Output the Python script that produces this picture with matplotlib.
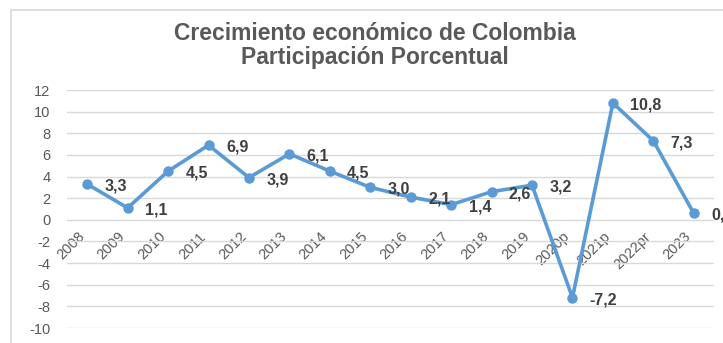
import numpy as np
import matplotlib
matplotlib.use("Agg")
import matplotlib.pyplot as plt
from matplotlib.patches import Rectangle
from matplotlib.transforms import ScaledTranslation

plt.rcParams['font.family'] = ['Liberation Sans', 'DejaVu Sans']

# Crecimiento anual del PIB (%)
years = ['2008', '2009', '2010', '2011', '2012', '2013', '2014', '2015',
         '2016', '2017', '2018', '2019', '2020p', '2021p', '2022pr', '2023']
growth = [3.3, 1.1, 4.5, 6.9, 3.9, 6.1, 4.5, 3.0,
          2.1, 1.4, 2.6, 3.2, -7.2, 10.8, 7.3, 0.6]
yticks = list(range(-10, 13, 2))

line_color = '#5B9BD5'
text_gray = '#595959'
grid_gray = '#D9D9D9'

fig = plt.figure(figsize=(7.23, 3.43), dpi=100)

# marco del gráfico
fig.patches.append(Rectangle((11 / 723, -0.1), 1.2, (343 - 10) / 343 + 0.1,
                             transform=fig.transFigure, fill=False,
                             edgecolor=grid_gray, linewidth=1.2))

fig.text(0.519, 0.868, 'Crecimiento económico de Colombia\nParticipación Porcentual',
         ha='center', va='center', fontsize=16.5, fontweight='bold',
         color=text_gray, linespacing=1.05)

ax = fig.add_axes([67 / 723, 15 / 343, 647 / 723, 238 / 343])
x = np.arange(len(years))
ax.plot(x, growth, color=line_color, linewidth=2.6, marker='o',
        markersize=6.5, zorder=3)

for xi, v in zip(x, growth):
    ax.annotate(f'{v:.1f}'.replace('.', ','), (xi, v), xytext=(12.5, -1.5),
                textcoords='offset points', ha='left', va='center',
                fontsize=11.5, fontweight='bold', color='#404040',
                annotation_clip=False)

ax.set_xlim(-0.5, len(years) - 0.5)
ax.set_ylim(-10, 12)
ax.set_yticks(yticks)
ax.set_yticklabels([str(t) for t in yticks])
ax.yaxis.grid(True, color=grid_gray, linewidth=1)
ax.set_axisbelow(True)

for s in ax.spines.values():
    s.set_visible(False)
ax.spines['bottom'].set_position(('data', 0))
ax.set_xticks(x)
ax.set_xticklabels(years, rotation=45, ha='right')
shift = ScaledTranslation(6 / 100, 0, fig.dpi_scale_trans)
for lbl in ax.get_xticklabels():
    lbl.set_transform(lbl.get_transform() + shift)

ax.tick_params(axis='both', length=0, colors=text_gray, labelsize=10.5)
ax.tick_params(axis='x', pad=7)
ax.tick_params(axis='y', pad=12)

fig.savefig('out.png', dpi=100)
